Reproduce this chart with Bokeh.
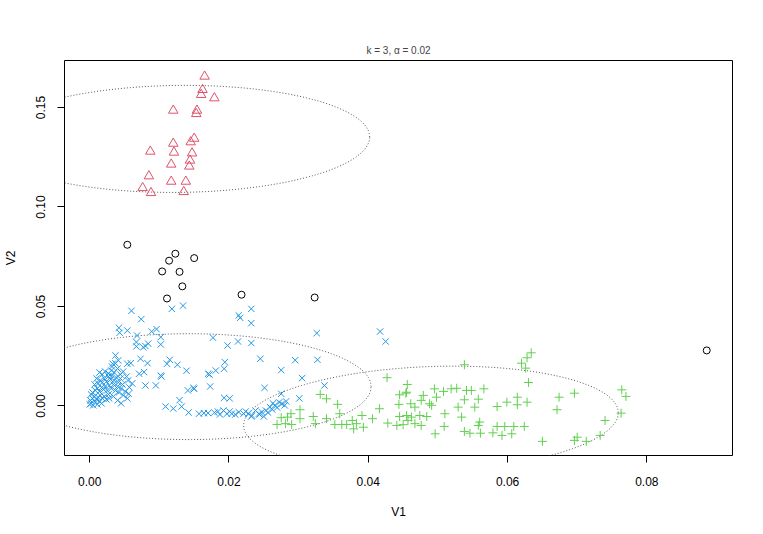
import numpy as np
from bokeh.plotting import figure
from bokeh.models import Range1d, FixedTicker, PrintfTickFormatter
from bokeh.embed import file_html
from bokeh.resources import INLINE

# ---- data: cluster 1 (red triangles)
red_x = [0.0165, 0.0162, 0.0160, 0.0179, 0.0120, 0.0154, 0.0153, 0.0150, 0.0120, 0.0145,
         0.0087, 0.0121, 0.0147, 0.0144, 0.0117, 0.0143, 0.0085, 0.0117, 0.0138, 0.0076,
         0.0088, 0.0135]
red_y = [0.1656, 0.1589, 0.1564, 0.1547, 0.1485, 0.1485, 0.1468, 0.1344, 0.1319, 0.1326,
         0.1279, 0.1274, 0.1270, 0.1234, 0.1214, 0.1204, 0.1155, 0.1128, 0.1128, 0.1096,
         0.1071, 0.1076]

# ---- trimmed points (black circles)
out_x = [0.0054, 0.0123, 0.0114, 0.0150, 0.0104, 0.0129, 0.0133, 0.0111, 0.0218, 0.0323, 0.0886]
out_y = [0.0810, 0.0765, 0.0730, 0.0743, 0.0676, 0.0674, 0.0601, 0.0540, 0.0559, 0.0545, 0.0279]

# ---- cluster 2 (blue x)
blue_x = [0.0000, 0.0002, 0.0005, 0.0008, 0.0011, 0.0014, 0.0017, 0.0001, 0.0004, 0.0007,
          0.0010, 0.0012, 0.0015, 0.0018, 0.0021, 0.0024, 0.0027, 0.0004, 0.0008, 0.0011,
          0.0014, 0.0017, 0.0020, 0.0022, 0.0025, 0.0028, 0.0031, 0.0034, 0.0037, 0.0040,
          0.0042, 0.0045, 0.0048, 0.0051, 0.0012, 0.0015, 0.0018, 0.0021, 0.0024, 0.0027,
          0.0030, 0.0032, 0.0035, 0.0038, 0.0041, 0.0044, 0.0047, 0.0018, 0.0022, 0.0027,
          0.0031, 0.0035, 0.0040, 0.0044, 0.0048, 0.0053, 0.0055, 0.0032, 0.0037, 0.0041,
          0.0014, 0.0010, 0.0007, 0.0002, 0.0028, 0.0034, 0.0040, 0.0045, 0.0054, 0.0057,
          0.0061,
          0.0060, 0.0074, 0.0118, 0.0134, 0.0042, 0.0043, 0.0054, 0.0068, 0.0089, 0.0096,
          0.0102, 0.0067, 0.0067, 0.0084, 0.0080, 0.0077, 0.0102, 0.0177, 0.0198, 0.0213,
          0.0232, 0.0214, 0.0216, 0.0232, 0.0232, 0.0326, 0.0417, 0.0425, 0.0037, 0.0054,
          0.0059, 0.0073, 0.0083, 0.0033, 0.0071, 0.0078, 0.0102, 0.0080, 0.0095, 0.0056,
          0.0103, 0.0111, 0.0115, 0.0126, 0.0139, 0.0141, 0.0149, 0.0150, 0.0170, 0.0172,
          0.0181, 0.0193, 0.0194, 0.0173, 0.0193, 0.0201, 0.0245, 0.0275, 0.0295, 0.0327,
          0.0305, 0.0251, 0.0275, 0.0301, 0.0337, 0.0109, 0.0120, 0.0129, 0.0132, 0.0142,
          0.0157, 0.0164, 0.0170, 0.0184, 0.0192, 0.0197, 0.0204, 0.0214, 0.0221, 0.0228,
          0.0233, 0.0238, 0.0243, 0.0247, 0.0253, 0.0259, 0.0266, 0.0276,
          0.0179, 0.0187, 0.0201, 0.0209, 0.0224, 0.0232, 0.0244, 0.0250, 0.0256, 0.0262,
          0.0269, 0.0272, 0.0280, 0.0282, 0.0263]
blue_y = [0.0008, 0.0013, 0.0003, 0.0018, 0.0008, 0.0023, 0.0013, 0.0028, 0.0038, 0.0048,
          0.0033, 0.0043, 0.0053, 0.0038, 0.0048, 0.0033, 0.0058, 0.0068, 0.0078, 0.0088,
          0.0073, 0.0093, 0.0083, 0.0098, 0.0078, 0.0103, 0.0088, 0.0108, 0.0078, 0.0098,
          0.0068, 0.0088, 0.0053, 0.0073, 0.0113, 0.0128, 0.0118, 0.0138, 0.0123, 0.0148,
          0.0133, 0.0153, 0.0128, 0.0143, 0.0118, 0.0138, 0.0108, 0.0158, 0.0173, 0.0163,
          0.0178, 0.0168, 0.0188, 0.0158, 0.0173, 0.0148, 0.0128, 0.0198, 0.0214, 0.0229,
          0.0168, 0.0138, 0.0108, 0.0058, 0.0038, 0.0048, 0.0028, 0.0013, 0.0038, 0.0093,
          0.0113,
          0.0478, 0.0436, 0.0488, 0.0504, 0.0393, 0.0368, 0.0379, 0.0354, 0.0374, 0.0386,
          0.0346, 0.0321, 0.0299, 0.0313, 0.0301, 0.0295, 0.0309, 0.0343, 0.0304, 0.0324,
          0.0316, 0.0455, 0.0443, 0.0488, 0.0416, 0.0366, 0.0374, 0.0324, 0.0254, 0.0212,
          0.0215, 0.0237, 0.0215, 0.0212, 0.0162, 0.0170, 0.0153, 0.0103, 0.0103, 0.0061,
          0.0148, 0.0212, 0.0232, 0.0207, 0.0177, 0.0078, 0.0091, 0.0086, 0.0162, 0.0158,
          0.0178, 0.0187, 0.0220, 0.0098, 0.0041, 0.0038, 0.0237, 0.0180, 0.0230, 0.0232,
          0.0140, 0.0091, 0.0061, 0.0038, 0.0103, -0.0003, -0.0013, 0.0029, -0.0003, -0.0033,
          -0.0039, -0.0036, -0.0036, -0.0028, -0.0023, -0.0039, -0.0039, -0.0031, -0.0039, -0.0039,
          -0.0048, -0.0023, -0.0039, -0.0031, -0.0023, -0.0006, 0.0003, 0.0011,
          -0.0033, -0.0043, -0.0028, -0.0043, -0.0028, -0.0053, -0.0043, -0.0053, -0.0033, -0.0018,
          -0.0008, 0.0018, 0.0003, 0.0023, 0.0013]

# ---- cluster 3 (green +)
green_x = [0.0538, 0.0427, 0.0456, 0.0454, 0.0445, 0.0479, 0.0476, 0.0495, 0.0508, 0.0519,
           0.0527, 0.0541, 0.0548, 0.0538, 0.0558, 0.0331, 0.0340, 0.0356, 0.0302, 0.0289,
           0.0275, 0.0269, 0.0281, 0.0290, 0.0302, 0.0321, 0.0324, 0.0340, 0.0352, 0.0359,
           0.0362, 0.0369, 0.0379, 0.0383, 0.0391, 0.0393, 0.0406, 0.0416, 0.0428, 0.0441,
           0.0445, 0.0455, 0.0457, 0.0462, 0.0467, 0.0476, 0.0484, 0.0488, 0.0491, 0.0510,
           0.0509, 0.0529, 0.0534, 0.0538, 0.0546, 0.0553, 0.0558, 0.0496,
           0.0634, 0.0628, 0.0620, 0.0626, 0.0630, 0.0566, 0.0585, 0.0599, 0.0614, 0.0614,
           0.0628, 0.0674, 0.0696, 0.0671, 0.0764, 0.0770, 0.0763, 0.0740, 0.0733, 0.0560,
           0.0561, 0.0579, 0.0585, 0.0596, 0.0592, 0.0606, 0.0609, 0.0624, 0.0650, 0.0696,
           0.0700, 0.0713,
           0.0455, 0.0498, 0.0461, 0.0467, 0.0450, 0.0474, 0.0444, 0.0377, 0.0284]
green_y = [0.0207, 0.0142, 0.0108, 0.0064, 0.0056, 0.0053, 0.0028, 0.0086, 0.0073, 0.0086,
           0.0089, 0.0078, 0.0078, 0.0031, 0.0034, 0.0058, 0.0036, 0.0008, -0.0019, -0.0039,
           -0.0059, -0.0093, -0.0089, -0.0093, -0.0064, -0.0053, -0.0089, -0.0064, -0.0093, -0.0039,
           -0.0093, -0.0093, -0.0115, -0.0089, -0.0048, -0.0107, -0.0064, -0.0014, -0.0086, -0.0098,
           -0.0053, -0.0048, -0.0073, -0.0056, -0.0089, -0.0098, -0.0053, 0.0011, 0.0003, -0.0039,
           -0.0103, -0.0006, -0.0056, -0.0128, -0.0137, -0.0006, -0.0098, -0.0140,
           0.0267, 0.0242, 0.0215, 0.0190, 0.0118, 0.0086, -0.0003, 0.0019, 0.0044, 0.0006,
           0.0019, 0.0044, 0.0064, -0.0019, 0.0081, 0.0048, -0.0036, -0.0073, -0.0148, -0.0081,
           -0.0137, -0.0135, -0.0103, -0.0103, -0.0148, -0.0140, -0.0103, -0.0103, -0.0178, -0.0173,
           -0.0157, -0.0178,
           0.0069, 0.0044, 0.0011, -0.0006, -0.0094, -0.0048, 0.0008, -0.0073, -0.0056]

# ---- cluster ellipses: centre, x half-extent, y half-extent, correlation
ell_cx = [0.0128, 0.0142, 0.0490]
ell_cy = [0.1342, 0.0097, -0.0066]
ell_ax = [0.0274, 0.0262, 0.0269]
ell_ay = [0.0269, 0.0266, 0.0266]
ell_rho = [0.035, 0.0, 0.12]

x_ticks = [0.00, 0.02, 0.04, 0.06, 0.08]
y_ticks = [0.00, 0.05, 0.10, 0.15]

FONT = "Liberation Sans"

p = figure(width=763, height=534, output_backend="svg", toolbar_location=None,
           x_range=Range1d(-0.00362, 0.0923), y_range=Range1d(-0.0249, 0.1736),
           min_border_left=62, min_border_right=31, min_border_top=60, min_border_bottom=79,
           title="k = 3, \u03b1 = 0.02")
p.background_fill_color = "white"
p.border_fill_color = "white"
p.outline_line_color = "black"
p.outline_line_width = 1
p.grid.visible = False

p.title.align = "center"
p.title.text_font = FONT
p.title.text_font_size = "10px"
p.title.text_font_style = "normal"
p.title.standoff = 9

for ax in (p.xaxis[0], p.yaxis[0]):
    ax.axis_line_color = None
    ax.major_tick_out = 7
    ax.major_tick_in = 0
    ax.major_tick_line_color = "black"
    ax.minor_tick_line_color = None
    ax.major_label_text_font = FONT
    ax.major_label_text_font_size = "12px"
    ax.major_label_text_color = "black"
    ax.axis_label_text_font = FONT
    ax.axis_label_text_font_size = "12px"
    ax.axis_label_text_font_style = "normal"
    ax.axis_label_text_color = "black"

p.xaxis.ticker = FixedTicker(ticks=x_ticks)
p.yaxis.ticker = FixedTicker(ticks=y_ticks)
p.xaxis.formatter = PrintfTickFormatter(format="%.2f")
p.yaxis.formatter = PrintfTickFormatter(format="%.2f")
p.xaxis.axis_label = "V1"
p.yaxis.axis_label = "V2"
p.yaxis.major_label_orientation = "vertical"
p.xaxis.major_label_standoff = 14
p.yaxis.major_label_standoff = 12
p.xaxis.axis_label_standoff = 16
p.yaxis.axis_label_standoff = 16

# ellipses
t = np.linspace(0, 2 * np.pi, 300)
for cx, cy, axx, ayy, r in zip(ell_cx, ell_cy, ell_ax, ell_ay, ell_rho):
    ex = cx + axx * np.cos(t)
    ey = cy + ayy * (r * np.cos(t) + np.sqrt(1 - r * r) * np.sin(t))
    p.line(ex, ey, line_color="#555555", line_dash="1 2", line_width=1)

p.scatter(blue_x, blue_y, marker="x", size=9, line_color="#2297E6", line_width=1, fill_color=None)
p.scatter(green_x, green_y, marker="cross", size=9, line_color="#61D04F", line_width=1, fill_color=None)
p.scatter(red_x, red_y, marker="triangle", size=9.5, line_color="#DF536B", line_width=1, fill_color=None)
p.scatter(out_x, out_y, marker="circle", size=7, line_color="black", line_width=1, fill_color=None)

open("out.html", "w").write(file_html(p, INLINE))
